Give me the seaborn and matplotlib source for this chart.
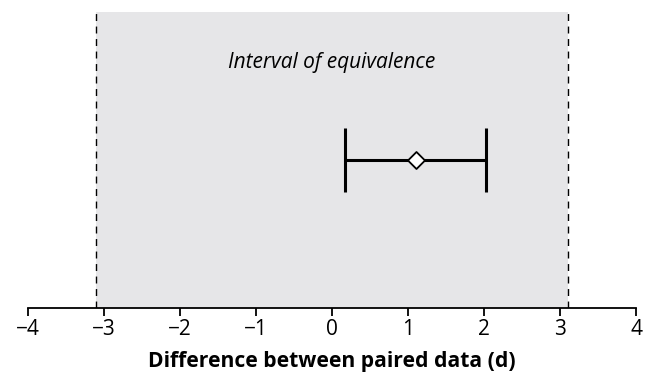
import matplotlib
matplotlib.use("Agg")
import matplotlib.pyplot as plt
import seaborn as sns

# datos de la figura
limite_equivalencia = [-3.1, 3.1]
diferencia_media = [1.1]
ic_inferior = [0.17]
ic_superior = [2.03]
posicion_y = [0.5]
ticks_x = [-4, -3, -2, -1, 0, 1, 2, 3, 4]

sns.set_style("white")
plt.rcParams['font.family'] = ['Open Sans', 'DejaVu Sans']
plt.rcParams['text.color'] = 'black'
plt.rcParams['axes.labelcolor'] = 'black'
plt.rcParams['xtick.color'] = 'black'

fig = plt.figure(figsize=(6.49, 3.89), dpi=100)
ax = fig.add_axes([0.043, 0.208, 0.937, 0.761])

# zona de equivalencia
ax.axvspan(limite_equivalencia[0], limite_equivalencia[1], color='#e6e6e8', zorder=0, lw=0)
for x in limite_equivalencia:
    ax.axvline(x, color='black', linestyle=(0, (5, 4)), linewidth=1.0, zorder=1)

ax.text(0, 0.83, 'Interval of equivalence', style='italic', fontsize=15,
        ha='center', va='center')

# intervalo de confianza
xerr = [[diferencia_media[0] - ic_inferior[0]], [ic_superior[0] - diferencia_media[0]]]
ax.errorbar(diferencia_media, posicion_y, xerr=xerr, fmt='none', ecolor='black',
            elinewidth=2.2, capsize=23, capthick=2.2, zorder=2)
sns.scatterplot(x=diferencia_media, y=posicion_y, marker='D', s=75, color='white',
                edgecolor='black', linewidth=1.3, zorder=3, ax=ax)

ax.set_xlim(-4, 4)
ax.set_ylim(0, 1)
ax.set_xticks(ticks_x)
ax.set_yticks([])
for lado in ['top', 'left', 'right']:
    ax.spines[lado].set_visible(False)
ax.spines['bottom'].set_linewidth(1.3)
ax.spines['bottom'].set_color('black')
ax.tick_params(axis='x', direction='out', length=6, width=1.3, color='black',
               labelsize=15, labelcolor='black', pad=2, bottom=True)
ax.set_xlabel('Difference between paired data (d)', fontsize=15.2, fontweight='bold',
              labelpad=8)

fig.savefig('out.png', dpi=100)
